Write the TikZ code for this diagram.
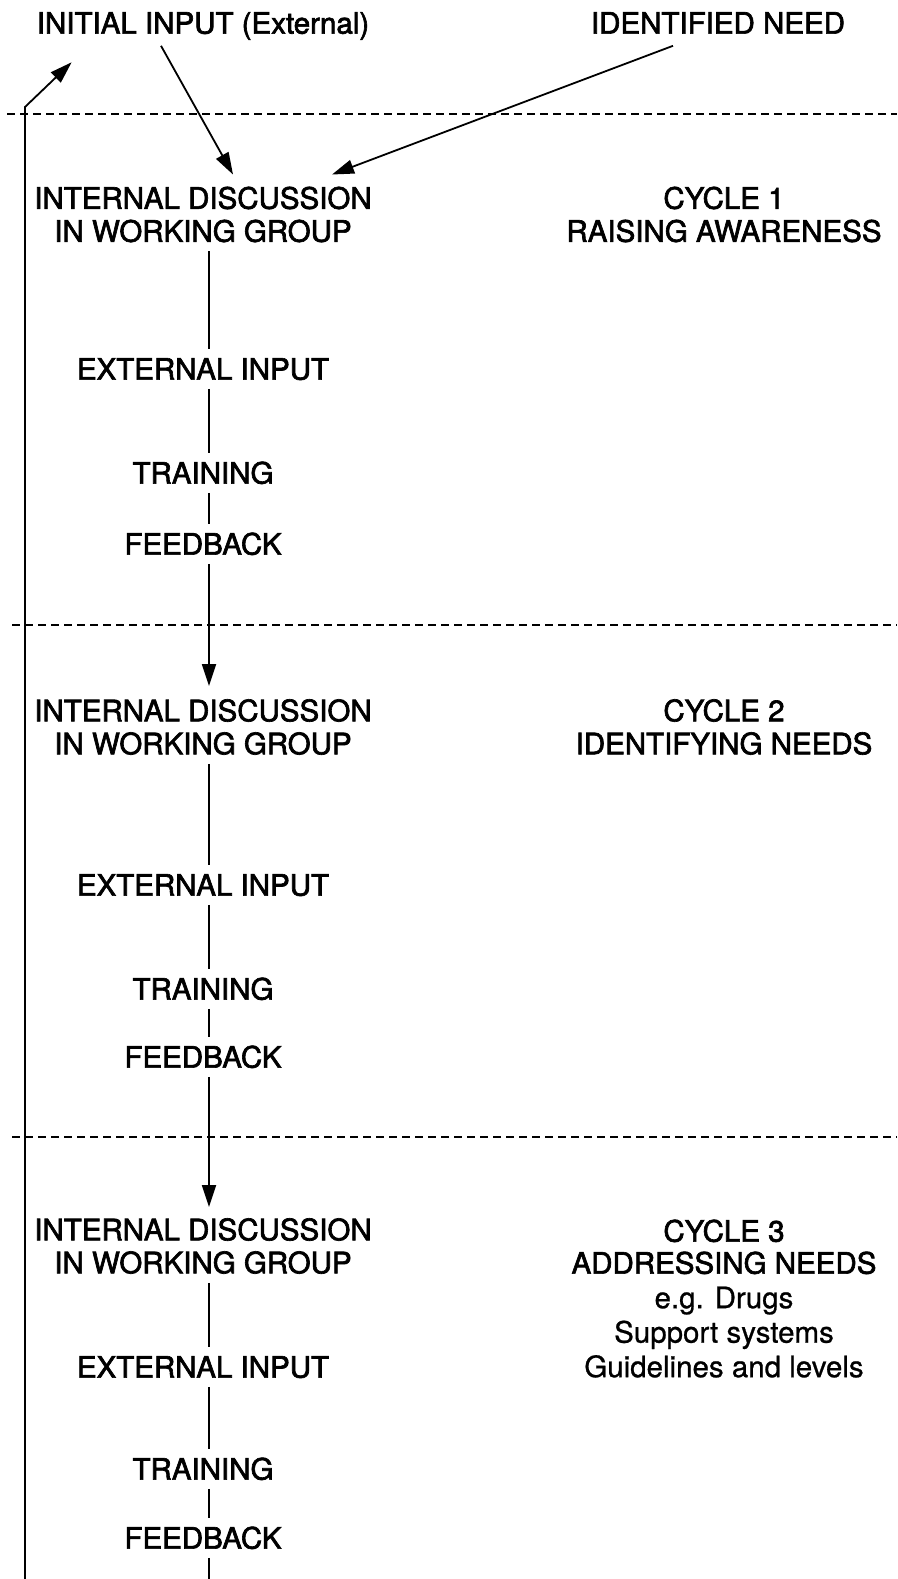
\documentclass[tikz,border=0pt]{standalone}
\usepackage{fontspec}
\setmainfont{TeX Gyre Heros}
\newfontfamily\capsfont[FakeBold=2.2]{TeX Gyre Heros}
\newfontfamily\notefont[FakeBold=0.8]{TeX Gyre Heros}
\usetikzlibrary{arrows.meta}

\begin{document}
\begin{tikzpicture}[x=1pt,y=-1pt,
  every node/.style={font=\capsfont\fontsize{29.5}{33}\selectfont, text=black},
  lab/.style={inner xsep=0pt, inner ysep=9pt, text height=21.2pt, text depth=0pt},
  labm/.style={align=center, inner xsep=0pt, inner ysep=9pt},
  flow/.style={line width=1.8pt, black},
  arr/.style={flow, -{Triangle[length=22pt,width=14pt]}},
  sep/.style={line width=1.7pt, dash pattern=on 8pt off 5pt}]

\useasboundingbox (0,0) rectangle (897,1579);

% top inputs
\node[lab] (init) at (203,23) {INITIAL INPUT (External)};
\node[lab] (need) at (718,23) {IDENTIFIED NEED};

% cycle separators
\coordinate (s1a) at (7,114);   \coordinate (s1b) at (897,114);
\coordinate (s2a) at (12,625);  \coordinate (s2b) at (897,625);
\coordinate (s3a) at (12,1137); \coordinate (s3b) at (897,1137);
\draw[sep] (s1a) -- (s1b);
\draw[sep] (s2a) -- (s2b);
\draw[sep] (s3a) -- (s3b);

% cycle 1
\node[labm] (id1) at (203,214.5) {INTERNAL DISCUSSION\\IN WORKING GROUP};
\node[labm] (c1) at (724,214.5) {CYCLE 1\\RAISING AWARENESS};
\node[lab] (ext1) at (203,369) {EXTERNAL INPUT};
\node[lab] (trn1) at (203,473) {TRAINING};
\node[lab] (fb1) at (203,544) {FEEDBACK};

% cycle 2
\node[labm] (id2) at (203,727) {INTERNAL DISCUSSION\\IN WORKING GROUP};
\node[labm] (c2) at (724,727) {CYCLE 2\\IDENTIFYING NEEDS};
\node[lab] (ext2) at (203,885) {EXTERNAL INPUT};
\node[lab] (trn2) at (203,989) {TRAINING};
\node[lab] (fb2) at (203,1057) {FEEDBACK};

% cycle 3
\node[labm] (id3) at (203,1246) {INTERNAL DISCUSSION\\IN WORKING GROUP};
\node[align=center, inner sep=0pt, anchor=north] (c3) at (724,1219.4)
  {CYCLE 3\\[-1pt]ADDRESSING NEEDS\\[1.5pt]
   {\notefont e.g. Drugs}\\[1.5pt]{\notefont Support systems}\\[1.5pt]{\notefont Guidelines and levels}};
\node[lab] (ext3) at (203,1367) {EXTERNAL INPUT};
\node[lab] (trn3) at (203,1469) {TRAINING};
\node[lab] (fb3) at (203,1538) {FEEDBACK};

% vertical flow through the cycles
\coordinate (sp) at (209,0);
\coordinate (end) at (209,1579);
\draw[flow] (id1.south -| sp) -- (ext1.north -| sp);
\draw[flow] (ext1.south -| sp) -- (trn1.north -| sp);
\draw[flow] (trn1.south -| sp) -- (fb1.north -| sp);
\draw[arr]  (fb1.south -| sp) -- ([yshift=4pt]id2.north -| sp);
\draw[flow] (id2.south -| sp) -- (ext2.north -| sp);
\draw[flow] (ext2.south -| sp) -- (trn2.north -| sp);
\draw[flow] (trn2.south -| sp) -- (fb2.north -| sp);
\draw[arr]  (fb2.south -| sp) -- ([yshift=2pt]id3.north -| sp);
\draw[flow] (id3.south -| sp) -- (ext3.north -| sp);
\draw[flow] (ext3.south -| sp) -- (trn3.north -| sp);
\draw[flow] (trn3.south -| sp) -- (fb3.north -| sp);
\draw[flow] (fb3.south -| sp) -- (end);

% inputs into the first discussion
\draw[arr] ([xshift=-42pt,yshift=-3pt]init.south) -- ([xshift=30pt,yshift=3pt]id1.north);
\draw[arr] ([xshift=-45pt,yshift=-3pt]need.south) -- ([xshift=129pt,yshift=3pt]id1.north);

% feedback loop back to the initial input
\coordinate (lb) at (25,1579);
\coordinate (lc) at (25,107);
\draw[arr] (lb) -- (lc) -- ([xshift=35pt,yshift=-19.5pt]init.south west);

\end{tikzpicture}
\end{document}
